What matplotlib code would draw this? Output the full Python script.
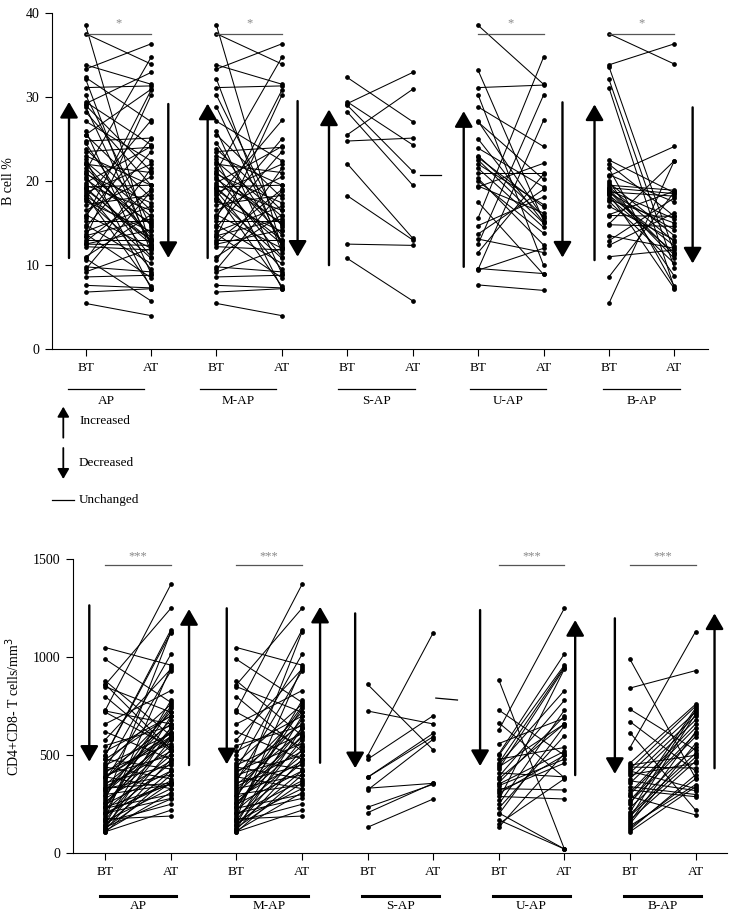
import matplotlib.pyplot as plt

plt.rcParams["font.family"] = ["Liberation Serif", "DejaVu Serif"]

W, H = 736, 919
GROUPS = ["AP", "M-AP", "S-AP", "U-AP", "B-AP"]
TIME_LABELS = ["BT", "AT"]

# ---- B cell % (before treatment / after treatment) ----
bcell_map_bt = [38.5, 37.5, 33.8, 33.3, 32.1, 31.1, 30.2, 28.8, 27.1, 26.0,
                25.5, 24.5, 23.8, 23.5, 23.0, 22.6, 22.3, 22.0, 21.6, 21.2,
                21.0, 20.8, 20.5, 20.2, 19.8, 19.5, 19.3, 19.2, 19.0, 18.8,
                18.6, 18.3, 18.0, 17.9, 17.6, 17.2, 16.5, 16.0, 15.9, 15.6,
                15.2, 14.8, 14.5, 14.0, 13.7, 13.5, 13.3, 13.0, 12.8, 12.5,
                12.2, 11.0, 10.6, 9.8, 9.5, 9.2, 8.6, 7.6, 6.8, 5.45]
bcell_map_at = [12.0, 33.9, 31.5, 36.3, 11.5, 31.3, 14.5, 12.3, 22.4, 9.0,
                18.0, 12.8, 16.5, 24.0, 19.5, 7.2, 15.8, 21.0, 13.6, 34.7,
                14.8, 17.4, 11.0, 15.0, 24.1, 16.5, 19.5, 12.5, 13.0, 9.5,
                22.0, 7.5, 27.2, 10.8, 14.0, 18.3, 20.5, 12.0, 25.0, 30.8,
                15.2, 10.2, 23.5, 17.0, 8.5, 15.5, 30.2, 13.0, 19.0, 14.2,
                11.8, 16.0, 21.5, 9.2, 18.8, 12.0, 8.8, 7.3, 7.2, 4.0]
bcell_sap_bt = [32.3, 29.4, 29.2, 29.0, 28.2, 25.5, 24.75, 22.05, 18.25, 12.5, 10.8]
bcell_sap_at = [27.05, 24.3, 32.9, 21.15, 19.5, 30.9, 25.1, 13.2, 13.0, 12.35, 5.75]
bcell_uap_bt = [38.5, 33.15, 31.1, 30.25, 28.8, 27.1, 27.0, 25.0, 23.9, 23.0,
                22.8, 22.5, 22.0, 21.5, 21.0, 20.3, 20.0, 19.4, 19.3, 17.5,
                15.6, 14.7, 13.7, 13.1, 12.5, 11.5, 9.6, 9.5, 9.4, 7.65]
bcell_uap_at = [31.5, 15.3, 31.4, 10.0, 24.1, 15.6, 20.2, 15.1, 19.3, 15.8,
                16.9, 15.0, 17.2, 14.5, 21.0, 12.4, 13.8, 16.2, 22.1, 8.9,
                34.7, 18.1, 19.0, 11.5, 30.2, 20.8, 9.0, 27.2, 12.0, 7.0]
bcell_bap_bt = [37.5, 33.8, 33.6, 32.1, 31.1, 22.5, 22.0, 21.5, 20.75, 20.6,
                20.0, 19.8, 19.5, 19.3, 19.2, 19.0, 18.9, 18.8, 18.7, 18.6,
                18.5, 18.3, 18.0, 17.8, 17.6, 17.0, 16.0, 15.9, 14.9, 14.8,
                13.5, 12.9, 12.35, 11.0, 8.6, 5.45]
bcell_bap_at = [33.9, 36.3, 11.5, 9.7, 7.3, 18.6, 15.8, 7.5, 17.5, 24.1,
                8.7, 13.5, 18.9, 12.8, 18.5, 11.2, 15.5, 10.8, 18.2, 14.2,
                7.2, 12.3, 11.5, 15.0, 10.2, 13.0, 18.8, 15.8, 22.4, 14.6,
                12.0, 18.0, 16.2, 11.8, 18.7, 22.4]
bcell_ap_bt = bcell_map_bt + bcell_sap_bt
bcell_ap_at = bcell_map_at + bcell_sap_at

# ---- CD4+CD8- T cells/mm3 (before / after treatment) ----
cd4_map_bt = [1050, 990, 880, 860, 850, 800, 730, 720, 660, 620,
              580, 550, 520, 500, 480, 460, 450, 440, 430, 420,
              410, 400, 390, 380, 370, 360, 350, 340, 330, 320,
              310, 300, 290, 280, 270, 260, 255, 250, 240, 235,
              230, 220, 210, 205, 200, 190, 180, 175, 170, 165,
              160, 150, 145, 140, 130, 125, 120, 115, 110, 108]
cd4_map_at = [960, 770, 600, 1250, 720, 520, 1372, 540, 830, 480,
              940, 650, 700, 1140, 430, 760, 610, 380, 1015, 560,
              660, 500, 330, 720, 930, 450, 620, 520, 400, 680,
              590, 350, 750, 470, 1130, 550, 600, 420, 640, 740,
              300, 500, 780, 280, 370, 460, 950, 190, 580, 330,
              250, 700, 420, 530, 360, 640, 480, 310, 220, 400]
cd4_sap_bt = [862, 726, 498, 480, 388, 388, 332, 323, 235, 207, 133]
cd4_sap_at = [527, 660, 1125, 702, 612, 595, 357, 582, 352, 357, 277]
cd4_uap_bt = [885, 731, 666, 629, 560, 507, 500, 480, 460, 453,
              440, 430, 410, 391, 380, 360, 353, 345, 330, 320,
              306, 290, 272, 250, 230, 206, 200, 170, 150, 133]
cd4_uap_at = [22, 500, 386, 1250, 690, 1017, 960, 540, 952, 830,
              660, 945, 390, 780, 660, 700, 520, 480, 323, 460,
              500, 277, 940, 730, 600, 22, 650, 22, 380, 510]
cd4_bap_bt = [990, 843, 735, 672, 616, 539, 460, 450, 440, 430,
              420, 410, 400, 380, 370, 357, 340, 323, 310, 300,
              290, 272, 260, 250, 232, 210, 200, 190, 180, 170,
              160, 150, 140, 130, 120, 110]
cd4_bap_at = [384, 932, 527, 420, 221, 1131, 760, 500, 435, 750,
              330, 720, 460, 700, 320, 680, 300, 289, 660, 640,
              196, 610, 595, 740, 540, 730, 510, 490, 710, 470,
              620, 560, 350, 380, 400, 340]
cd4_ap_bt = cd4_map_bt + cd4_sap_bt
cd4_ap_at = cd4_map_at + cd4_sap_at

bcell_pairs = [(bcell_ap_bt, bcell_ap_at), (bcell_map_bt, bcell_map_at),
               (bcell_sap_bt, bcell_sap_at), (bcell_uap_bt, bcell_uap_at),
               (bcell_bap_bt, bcell_bap_at)]
cd4_pairs = [(cd4_ap_bt, cd4_ap_at), (cd4_map_bt, cd4_map_at),
             (cd4_sap_bt, cd4_sap_at), (cd4_uap_bt, cd4_uap_at),
             (cd4_bap_bt, cd4_bap_at)]

bcell_sig = ["*", "*", "", "*", "*"]
cd4_sig = ["***", "***", "", "***", "***"]

# trend arrows: (x, tail, tip)
bcell_arrows = [(-0.255, 10.85, 29.4), (1.263, 29.15, 10.85),
                (1.865, 10.85, 29.2), (3.24, 29.5, 11.0),
                (3.72, 10.0, 28.5),
                (5.78, 9.8, 28.3), (7.29, 29.35, 10.9),
                (7.78, 10.6, 29.1), (9.28, 28.75, 10.2)]
cd4_arrows = [(-0.244, 1265, 467), (1.277, 450, 1246),
              (1.852, 1250, 454), (3.275, 462, 1258),
              (3.81, 1224, 434),
              (5.715, 1241, 445), (7.165, 399, 1190),
              (7.77, 1199, 405), (9.29, 434, 1224)]


def fig_rect(x0, y0, x1, y1):
    return [x0 / W, 1 - y1 / H, (x1 - x0) / W, (y1 - y0) / H]


def draw_panel(ax, pairs, sig, sig_y, star_y, arrows, flat, ylim, yticks,
               ylabel, label_x, under_y, name_y, under_lw, under_off):
    for i, (bt, at) in enumerate(pairs):
        for b, a in zip(bt, at):
            ax.plot([2 * i, 2 * i + 1], [b, a], color="black", lw=0.75,
                    marker="o", ms=2.4, clip_on=False)
        if sig[i]:
            ax.plot([2 * i, 2 * i + 1], [sig_y, sig_y], color="#555555", lw=0.9)
            ax.text(2 * i + 0.5, star_y, sig[i], ha="center", va="center",
                    fontsize=9, color="#888888")
    for x, tail, tip in arrows:
        ax.annotate("", xy=(x, tip), xytext=(x, tail),
                    arrowprops=dict(arrowstyle="-|>,head_length=0.95,head_width=0.55",
                                    lw=1.7, color="black", mutation_scale=10,
                                    shrinkA=0, shrinkB=0))
    ax.plot(flat[0], flat[1], color="black", lw=0.9)
    ax.set_ylim(*ylim)
    ax.set_yticks(yticks)
    ax.set_xticks(range(10))
    ax.set_xticklabels(TIME_LABELS * 5)
    ax.tick_params(direction="out", length=5, width=0.8, labelsize=9.5, pad=4)
    ax.tick_params(axis="y", labelsize=10)
    for side in ("top", "right"):
        ax.spines[side].set_visible(False)
    for side in ("left", "bottom"):
        ax.spines[side].set_linewidth(0.8)
    ax.set_ylabel(ylabel, fontsize=10)
    ax.yaxis.set_label_coords(label_x, 0.5)
    trans = ax.get_xaxis_transform()
    for i, g in enumerate(GROUPS):
        c = 2 * i + 0.5 + under_off[i]
        ax.plot([c - 0.585, c + 0.585], [under_y, under_y], color="black",
                lw=under_lw, transform=trans, clip_on=False)
        ax.text(c, name_y, g, ha="center", va="center", fontsize=9.5,
                transform=trans)


fig = plt.figure(figsize=(W / 100, H / 100), dpi=100)

ax1 = fig.add_axes(fig_rect(52, 12.7, 708, 349.3))
ax1.set_xlim(-0.515, 9.515)
draw_panel(ax1, bcell_pairs, bcell_sig, 37.5, 38.7, bcell_arrows,
           ([5.11, 5.43], [20.75, 20.75]), (0, 40), [0, 10, 20, 30, 40],
           "B cell %", -0.056, -0.118, -0.155, 0.9,
           [-0.19, -0.17, -0.05, -0.04, 0.0])

ax2 = fig.add_axes(fig_rect(72.7, 559.3, 727, 853.3))
ax2.set_xlim(-0.497, 9.48)
draw_panel(ax2, cd4_pairs, cd4_sig, 1471, 1515, cd4_arrows,
           ([5.04, 5.37], [792, 782]), (0, 1500), [0, 500, 1000, 1500],
           "CD4+CD8- T cells/mm$^3$", -0.078, -0.144, -0.18, 2.2,
           [0, 0, 0, 0, 0])


# legend for the trend arrows
def fp(x, y):
    return (x / W, 1 - y / H)


leg_arrow = dict(arrowstyle="-|>,head_length=0.6,head_width=0.35", lw=1.3,
                 color="black", mutation_scale=10, shrinkA=0, shrinkB=0)
fig.add_artist(plt.Line2D([52 / W, 74 / W], [1 - 500 / H, 1 - 500 / H],
                          color="black", lw=0.9))
fig.text(*fp(79, 421), "Increased", va="center", fontsize=9.5)
fig.text(*fp(79, 463), "Decreased", va="center", fontsize=9.5)
fig.text(*fp(79, 500), "Unchanged", va="center", fontsize=9.5)
ax1.annotate("", xy=fp(63.3, 406.7), xytext=fp(63.3, 437.7),
             xycoords="figure fraction", textcoords="figure fraction",
             arrowprops=leg_arrow)
ax1.annotate("", xy=fp(63.3, 479), xytext=fp(63.3, 448),
             xycoords="figure fraction", textcoords="figure fraction",
             arrowprops=leg_arrow)

fig.savefig("out.png", dpi=100)
